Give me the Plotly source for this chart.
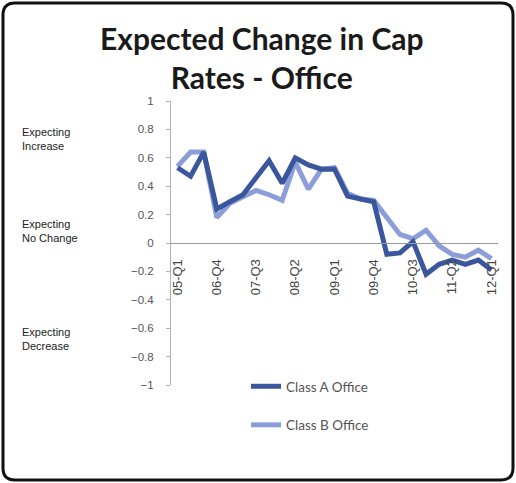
import plotly.graph_objects as go

# ---- data ----
quarters = ["05-Q1", "05-Q3", "06-Q2", "06-Q4", "07-Q1", "07-Q2", "07-Q3", "07-Q4",
            "08-Q1", "08-Q2", "08-Q3", "08-Q4", "09-Q1", "09-Q2", "09-Q3", "09-Q4",
            "10-Q1", "10-Q2", "10-Q3", "10-Q4", "11-Q1", "11-Q2", "11-Q3", "11-Q4", "12-Q1"]
shown_labels = ["05-Q1", "06-Q4", "07-Q3", "08-Q2", "09-Q1", "09-Q4", "10-Q3", "11-Q2", "12-Q1"]

class_a = [0.53, 0.47, 0.64, 0.24, 0.29, 0.34, 0.46, 0.58, 0.42, 0.60, 0.55, 0.52, 0.52,
           0.33, 0.31, 0.29, -0.08, -0.07, 0.01, -0.22, -0.15, -0.12, -0.15, -0.12, -0.19]
class_b = [0.54, 0.64, 0.64, 0.18, 0.28, 0.33, 0.37, 0.34, 0.30, 0.57, 0.38, 0.52, 0.53,
           0.35, 0.31, 0.30, 0.18, 0.06, 0.03, 0.09, -0.02, -0.08, -0.10, -0.05, -0.11]

y_ticks = [1, 0.8, 0.6, 0.4, 0.2, 0, -0.2, -0.4, -0.6, -0.8, -1]

title_text = "<b>Expected Change in Cap<br>Rates - Office</b>"

# ---- layout geometry (pixels) ----
W, H = 516, 483
L, R, T, B = 171, 18, 101, 98
pw, ph = W - L - R, H - T - B

def px(x):
    return (x - L) / pw

def py(y):
    return (H - B - y) / ph

fig = go.Figure()
fig.add_trace(go.Scatter(x=quarters, y=class_b, mode="lines", name="Class B Office",
                         legendgroup="b", legendrank=2,
                         line=dict(color="#8C9EDA", width=5)))
fig.add_trace(go.Scatter(x=quarters, y=class_a, mode="lines", name="Class A Office",
                         legendgroup="a", legendrank=1,
                         line=dict(color="#3A569C", width=5)))

# rounded border
x0, x1, y0, y1 = px(3), px(513), py(3), py(480)
rx, ry = 12 / pw, 12 / ph
path = (f"M {x0+rx},{y0} L {x1-rx},{y0} Q {x1},{y0} {x1},{y0-ry} "
        f"L {x1},{y1+ry} Q {x1},{y1} {x1-rx},{y1} L {x0+rx},{y1} "
        f"Q {x0},{y1} {x0},{y1+ry} L {x0},{y0-ry} Q {x0},{y0} {x0+rx},{y0} Z")
fig.add_shape(type="path", path=path, xref="paper", yref="paper",
              line=dict(color="#111111", width=3))

# title
fig.add_annotation(text=title_text, xref="paper", yref="paper", x=px(262), y=py(18),
                   xanchor="center", yanchor="top", showarrow=False, align="center",
                   font=dict(family="Lato", size=30, color="#1a1a1a"))

side_notes = [("Expecting<br>Increase", 139), ("Expecting<br>No Change", 231),
              ("Expecting<br>Decrease", 339)]
for txt, yc in side_notes:
    fig.add_annotation(text=txt, xref="paper", yref="paper", x=px(20), y=py(yc),
                       xanchor="left", yanchor="middle", showarrow=False, align="left",
                       font=dict(family="Arial", size=11, color="#222222"))

fig.update_layout(
    width=W, height=H,
    margin=dict(l=L, r=R, t=T, b=B),
    paper_bgcolor="white", plot_bgcolor="white",
    showlegend=True,
    legend=dict(x=px(246), y=py(371), xanchor="left", yanchor="top",
                bgcolor="rgba(0,0,0,0)", tracegroupgap=18,
                font=dict(family="Lato", size=13.5, color="#555555")),
    xaxis=dict(type="category", range=[-0.5, 24.5], anchor="free", position=0.5,
               showline=True, linecolor="#9a9a9a", linewidth=1,
               showgrid=False, zeroline=False,
               tickmode="array", tickvals=shown_labels, ticktext=shown_labels,
               tickangle=-90, ticks="outside", ticklen=10, tickcolor="rgba(0,0,0,0)",
               tickfont=dict(family="Arial", size=13, color="#444444")),
    yaxis=dict(range=[-1, 1], tickvals=y_ticks, showgrid=False, zeroline=False,
               showline=True, linecolor="#b0b0b0", linewidth=1,
               ticks="outside", ticklen=4, tickcolor="#b0b0b0", ticklabelstandoff=10,
               tickfont=dict(family="Arial", size=11.5, color="#555555")),
)

fig.write_html("out.html", config={"displayModeBar": False},
               post_script="document.body.style.margin='0';")
